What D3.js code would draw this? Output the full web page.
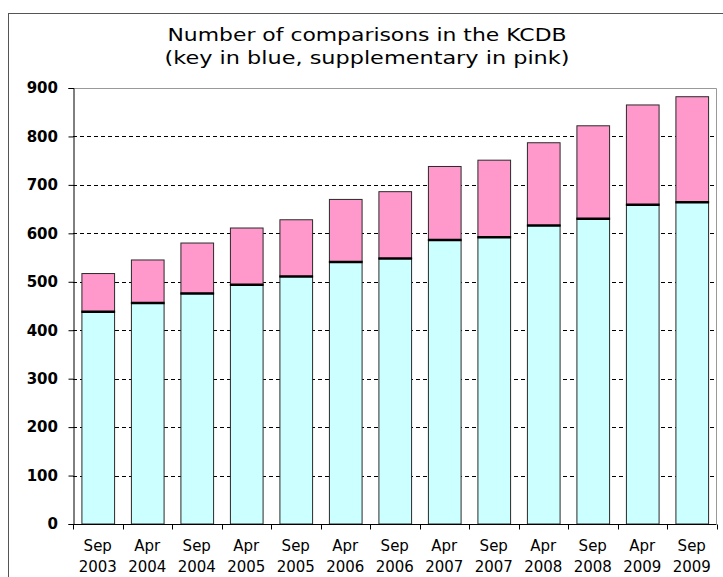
<!DOCTYPE html>
<html><head><meta charset="utf-8">
<script src="https://cdn.jsdelivr.net/npm/d3@7"></script>
<style>body{margin:0;background:#fff}svg{display:block}</style>
</head><body><svg id="c" width="723" height="577"></svg>
<script>
const categories = ["Sep 2003","Apr 2004","Sep 2004","Apr 2005","Sep 2005","Apr 2006","Sep 2006","Apr 2007","Sep 2007","Apr 2008","Sep 2008","Apr 2009","Sep 2009"];
const keyValues = [438,456,476,494,511,541,548,586,592,616,630,659,664];
const suppValues = [79,89,104,117,117,129,138,152,159,171,192,206,218];
const yTicks = [0,100,200,300,400,500,600,700,800,900];
const titleLines = ["Number of comparisons in the KCDB","(key in blue, supplementary in pink)"];

const svg = d3.select("#c");
const m = {left:73, right:716.5, top:88, bottom:524};
svg.append("rect").attr("x",0).attr("y",0).attr("width",723).attr("height",577).attr("fill","#fff");
svg.append("rect").attr("x",8.5).attr("y",13.5).attr("width",730).attr("height",600).attr("fill","none").attr("stroke","#555");

const x = d3.scaleBand().domain(categories).range([m.left,m.right]).paddingInner(0.34).paddingOuter(0.17);
const y = d3.scaleLinear().domain([0,900]).range([m.bottom,m.top]);

// title
svg.append("g").selectAll("text").data(titleLines).join("text")
  .attr("x",367).attr("y",(d,i)=>41+i*22.5).attr("text-anchor","middle")
  .attr("textLength",(d,i)=>i===0?399:405).attr("lengthAdjust","spacingAndGlyphs")
  .attr("font-family","DejaVu Sans, Verdana, sans-serif").attr("font-size",17.5).attr("fill","#000").text(d=>d);

// grid
svg.append("g").selectAll("line").data(yTicks.filter(t=>t>0&&t<900)).join("line")
  .attr("x1",m.left).attr("x2",m.right).attr("y1",d=>Math.round(y(d))+0.5).attr("y2",d=>Math.round(y(d))+0.5)
  .attr("stroke","#000").attr("stroke-dasharray","4,3");
// plot border top/right
svg.append("path").attr("d",`M${m.left},${m.top+0.5}H${m.right}V${m.bottom}`).attr("fill","none").attr("stroke","#999");

// bars
const data = categories.map((c,i)=>({c,k:keyValues[i],s:suppValues[i]}));
const g = svg.append("g");
g.selectAll(".pk").data(data).join("rect")
  .attr("x",d=>x(d.c)+0.5).attr("width",x.bandwidth())
  .attr("y",d=>y(d.k+d.s)).attr("height",d=>y(d.k)-y(d.k+d.s))
  .attr("fill","#FF99CC").attr("stroke","#2a2a2a");
g.selectAll(".bl").data(data).join("rect")
  .attr("x",d=>x(d.c)+0.5).attr("width",x.bandwidth())
  .attr("y",d=>y(d.k)).attr("height",d=>y(0)-y(d.k))
  .attr("fill","#CCFFFF").attr("stroke","#2a2a2a");
g.selectAll(".sp").data(data).join("line")
  .attr("x1",d=>x(d.c)).attr("x2",d=>x(d.c)+x.bandwidth()+1)
  .attr("y1",d=>y(d.k)).attr("y2",d=>y(d.k)).attr("stroke","#000").attr("stroke-width",2.5);

// y axis
const ya = svg.append("g").attr("transform",`translate(${m.left+0.5},0)`)
  .call(d3.axisLeft(y).tickValues(yTicks).tickSize(5).tickPadding(10.5));
ya.select(".domain").attr("stroke","#000");
ya.selectAll("text").attr("font-family","DejaVu Sans, Verdana, sans-serif").attr("font-weight","bold").attr("font-size",15).attr("fill","#000");

// x axis
const xa = svg.append("g").attr("transform",`translate(0,${m.bottom+0.5})`);
xa.append("line").attr("x1",m.left).attr("x2",m.right).attr("stroke","#000");
const bounds = d3.range(categories.length+1).map(i=>m.left+i*x.step());
xa.selectAll(".tk").data(bounds).join("line").attr("x1",d=>Math.round(d)+0.5).attr("x2",d=>Math.round(d)+0.5).attr("y1",0).attr("y2",5).attr("stroke","#000");
const lbl = xa.selectAll(".lb").data(categories).join("text")
  .attr("x",d=>x(d)+x.bandwidth()/2).attr("text-anchor","middle")
  .attr("font-family","DejaVu Sans, Tahoma, sans-serif").attr("font-size",15).attr("fill","#000");
lbl.append("tspan").attr("x",d=>x(d)+x.bandwidth()/2).attr("y",26).text(d=>d.split(" ")[0]);
lbl.append("tspan").attr("x",d=>x(d)+x.bandwidth()/2).attr("y",47).text(d=>d.split(" ")[1]);
</script></body></html>
